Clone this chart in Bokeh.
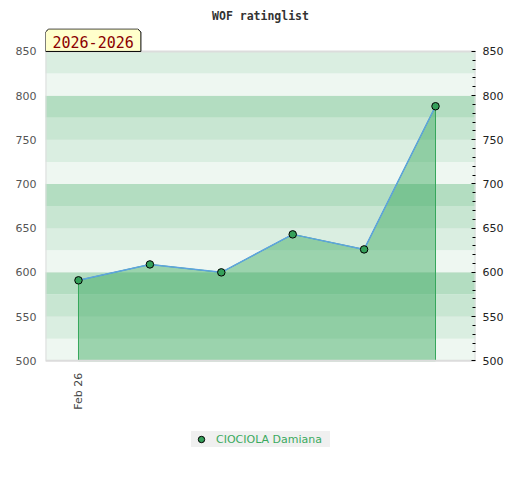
import math
from bokeh.plotting import figure
from bokeh.models import (LinearAxis, FixedTicker, Label, Legend, LegendItem, Range1d)
from bokeh.core.properties import value
from bokeh.embed import file_html
from bokeh.resources import INLINE

title_text = "WOF ratinglist"
period_text = "2026-2026"
player = "CIOCIOLA Damiana"
x_idx = [0, 1, 2, 3, 4, 5]
ratings = [591, 609, 600, 643, 626, 788]
tick_positions = [0]
tick_labels = ["Feb 26"]
y_major = [500, 550, 600, 650, 700, 750, 800, 850]
y_minor = [v for v in range(500, 851, 10) if v % 50]
band_edges = [500, 525, 550, 575, 600, 625, 650, 675, 700, 725, 750, 775, 800, 825, 850]
band_cycle = ["#eef7f1", "#daeee1", "#c8e6d2", "#b3ddc1"]

base = 500
top_val = 850
X0, X1 = -0.462, 5.56
Y0, Y1 = 387.10, 875.97

p = figure(width=512, height=472, x_range=Range1d(X0, X1), y_range=Range1d(Y0, Y1),
           output_backend="svg", toolbar_location=None,
           min_border_left=45, min_border_right=37, min_border_top=27, min_border_bottom=12)
p.outline_line_color = None
p.background_fill_color = "white"
p.border_fill_color = "white"

p.title.text = title_text
p.title.align = "center"
p.title.vertical_align = "bottom"
p.title.text_font = "DejaVu Sans Mono"
p.title.text_font_style = "bold"
p.title.text_font_size = "11.5px"
p.title.text_color = "#333333"
p.title.standoff = 12

# bands
bottoms = band_edges[:-1]
tops = band_edges[1:]
colors = [band_cycle[i % 4] for i in range(len(bottoms))]
p.quad(left=X0 - 1, right=X1 + 1, bottom=bottoms, top=tops, fill_color=colors, line_color=None)

p.xgrid.visible = False
p.ygrid.ticker = FixedTicker(ticks=y_major)
p.ygrid.grid_line_color = "#e6ece8"
p.ygrid.grid_line_width = 1

# area
xs = x_idx + x_idx[::-1]
ys = ratings + [base] * len(ratings)
p.patch(xs, ys, fill_color="#36a75c", fill_alpha=0.45, line_color="#36a75c", line_width=1)
p.line(x_idx, ratings, line_color="#5ea3e0", line_width=1.5)
pts = p.scatter(x_idx, ratings, size=7.5, fill_color="#35a05a", line_color="black", line_width=1)

# plot border around data area
p.quad(left=X0, right=X1, bottom=base, top=top_val, fill_color=None, line_color="#dcdcdc", line_width=2)

# period box (chamfered tab)
bx0, bx1, by0, by1, cx, cy = X0, 0.874, top_val, 875.5, 0.045, 3.5
p.patch([bx0, bx0, bx0 + cx, bx1 - cx, bx1, bx1],
        [by0, by1 - cy, by1, by1, by1 - cy, by0],
        fill_color="#ffffcc", line_color="black", line_width=1)
p.add_layout(Label(x=X0, y=861.0, x_offset=7, text=period_text, text_align="left",
                   text_baseline="middle", text_font="DejaVu Sans Mono",
                   text_font_size="15px", text_color="#8b0000"))

# x tick label (below the data area)
p.text(x=tick_positions, y=[base] * len(tick_positions), text=tick_labels, angle=math.pi / 2,
       text_align="right", text_baseline="middle", y_offset=12,
       text_font=value("DejaVu Sans"), text_font_size="11px", text_color="#444444")
p.xaxis.visible = False

# left axis
ya = p.yaxis[0]
ya.ticker = FixedTicker(ticks=y_major)
ya.axis_line_color = None
ya.major_tick_in = 0
ya.major_tick_out = 0
ya.minor_tick_in = 0
ya.minor_tick_out = 0
ya.major_tick_line_color = None
ya.minor_tick_line_color = None
ya.major_label_text_color = "#555555"
ya.major_label_text_font = "DejaVu Sans"
ya.major_label_text_font_size = "11px"
ya.major_label_standoff = 9

# right axis
ra = LinearAxis(ticker=FixedTicker(ticks=y_major, minor_ticks=y_minor))
ra.axis_line_color = None
ra.major_tick_in = 4
ra.major_tick_out = 0
ra.minor_tick_in = 3
ra.minor_tick_out = 0
ra.major_tick_line_color = "black"
ra.minor_tick_line_color = "black"
ra.major_label_text_color = "#222222"
ra.major_label_text_font = "DejaVu Sans"
ra.major_label_text_font_size = "11px"
ra.major_label_standoff = 7
p.add_layout(ra, "right")

# legend
legend = Legend(items=[LegendItem(label=player, renderers=[pts])],
                orientation="horizontal", location=(146, 13),
                background_fill_color="#f0f0f0", background_fill_alpha=1,
                border_line_color=None, label_text_color="#3aaa5e",
                label_text_font="DejaVu Sans", label_text_font_size="11px",
                glyph_width=20, glyph_height=16, label_height=16, label_width=114,
                padding=2, margin=0, label_standoff=5)
p.add_layout(legend, "center")

open("out.html", "w").write(file_html(p, INLINE))
